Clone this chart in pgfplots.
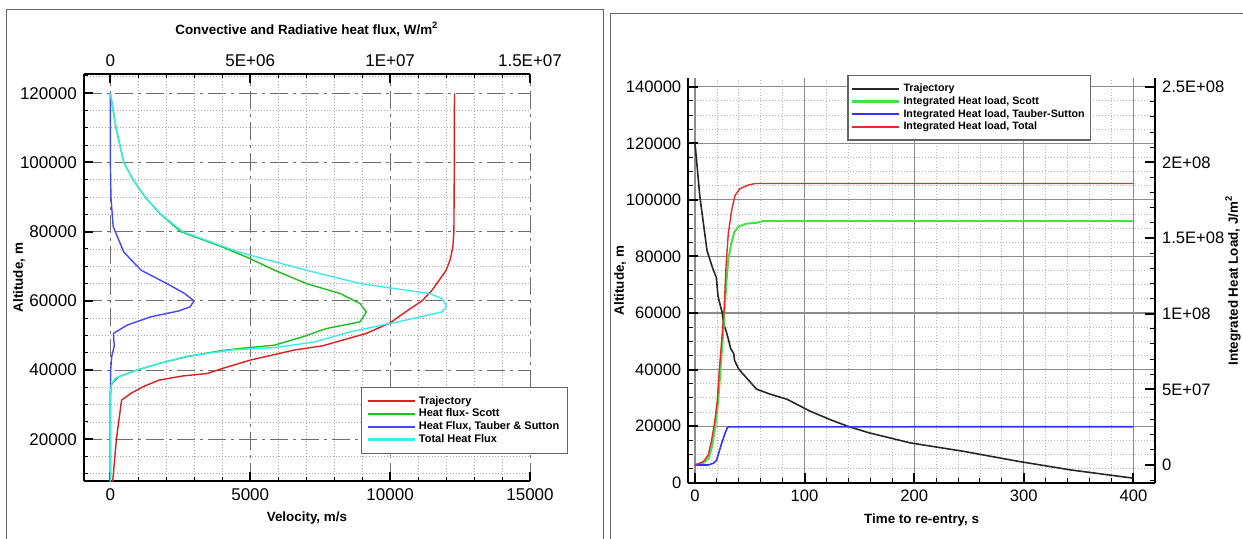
\documentclass[border=0pt]{standalone}
\usepackage{fontspec}
\setmainfont{Liberation Sans}
\usepackage{pgfplots}
\pgfplotsset{compat=1.18}
\definecolor{framegray}{RGB}{100,100,100}
\definecolor{lmajgrid}{RGB}{110,110,110}
\definecolor{lmingrid}{RGB}{170,170,170}
\definecolor{rmajgrid}{RGB}{140,140,140}
\definecolor{rmingrid}{RGB}{180,180,180}
\definecolor{ltrajcol}{RGB}{220,30,30}
\definecolor{lscottcol}{RGB}{30,190,30}
\definecolor{lbluecol}{RGB}{70,70,245}
\definecolor{ltotcol}{RGB}{60,235,235}
\definecolor{rtrajcol}{RGB}{40,40,40}
\definecolor{rscottcol}{RGB}{70,225,70}
\definecolor{rbluecol}{RGB}{50,50,250}
\definecolor{rtotcol}{RGB}{235,40,40}
\pgfplotsset{
  common/.style={
    scale only axis,
    scaled ticks=false,
    tick align=inside,
    /pgf/number format/assume math mode=true,
    axis line style={-, line width=1.1pt, black},
    every major tick/.append style={line width=1pt, black},
    every minor tick/.append style={line width=0.5pt, black},
    label style={font=\fontsize{6.7}{8}\selectfont\bfseries},
    legend cell align=left,
  },
}
\begin{document}
\begin{tikzpicture}
\path[use as bounding box] (0,0) rectangle (621.5pt,-269pt);
\draw[framegray, line width=0.5pt] (3.15pt,-275pt) -- (3.15pt,-4.65pt) -- (301.8pt,-4.65pt) -- (301.8pt,-275pt);
\draw[framegray, line width=0.5pt] (305.35pt,-275pt) -- (305.35pt,-6.65pt) -- (625pt,-6.65pt);

% ---------------- LEFT PANEL: velocity vs altitude ----------------
\begin{axis}[common,
  at={(41.9pt,-240.65pt)}, anchor=south west,
  width=223.1pt, height=203.65pt,
  xmin=-950, xmax=15000, ymin=7850, ymax=125570,
  axis x line*=bottom, axis y line*=left,
  xtick={0,5000,10000,15000}, xticklabels={0,5000,10000,15000},
  minor xtick={1000,2000,3000,4000,6000,7000,8000,9000,11000,12000,13000,14000},
  ytick={20000,40000,60000,80000,100000,120000},
  yticklabels={20000,40000,60000,80000,100000,120000},
  minor ytick={10000,15000,25000,30000,35000,45000,50000,55000,65000,70000,75000,85000,90000,95000,105000,110000,115000,125000},
  major tick length=4.5pt, minor tick length=2pt,
  tick label style={font=\fontsize{8.5}{9}\selectfont},
  grid=both,
  major grid style={lmajgrid, line width=0.5pt, dash pattern=on 9pt off 2.5pt on 1.5pt off 2.5pt},
  minor grid style={lmingrid, line width=0.4pt, dash pattern=on 0.5pt off 1pt},
  xlabel={Velocity, m/s}, ylabel={Altitude, m},
  xlabel style={at={(axis description cs:0.5,-0.0908)}, anchor=center},
  ylabel style={at={(axis description cs:-0.1452,0.5)}, anchor=center},
]
\addplot[ltrajcol, line width=0.7pt] coordinates {
(12300,120000) (12295,100000) (12280,80000) (12240,75500) (12150,72000)
(12000,68800) (11500,63100) (11140,60000) (10640,57300) (10000,53650)
(9150,50600) (7580,47000) (6580,45800) (5010,42900) (4020,40500)
(3450,39000) (2590,38300) (1740,37100) (1170,35200) (740,33300)
(400,31300) (215,20000) (82,7700)};
\end{axis}

\begin{axis}[common,
  at={(41.9pt,-240.65pt)}, anchor=south west,
  width=223.1pt, height=203.65pt,
  xmin=-0.95e6, xmax=1.5e7, ymin=7850, ymax=125570,
  axis x line*=top, hide y axis,
  xtick={0,5e6,1e7,1.5e7}, xticklabels={0,5E+06,1E+07,1.5E+07},
  minor xtick={1e6,2e6,3e6,4e6,6e6,7e6,8e6,9e6,1.1e7,1.2e7,1.3e7,1.4e7},
  major tick length=4.5pt, minor tick length=2pt,
  tick label style={font=\fontsize{8.5}{9}\selectfont},
  xlabel={Convective and Radiative heat flux, W/m\textsuperscript{2}},
  xlabel style={at={(axis description cs:0.5,1.1097)}, anchor=center},
  legend style={at={(0.621,0.067)}, anchor=south west, draw=framegray, line width=0.6pt,
    fill=white, font=\fontsize{5.5}{6}\selectfont\bfseries,
    inner xsep=2.5pt, inner ysep=3.8pt, row sep=0pt, column sep=0pt,
    nodes={inner xsep=1.6pt, inner ysep=0.6pt, text height=4.0pt, text depth=1.15pt}},
  legend image code/.code={\draw[#1] (0pt,0pt) -- (23.5pt,0pt);},
]
\addlegendimage{draw=ltrajcol, line width=1.1pt}
\addlegendentry{Trajectory}
\addlegendimage{draw=lscottcol, line width=1.1pt}
\addlegendentry{Heat flux- Scott}
\addlegendimage{draw=lbluecol, line width=1.1pt}
\addlegendentry{Heat Flux, Tauber \& Sutton}
\addlegendimage{draw=ltotcol, line width=1.1pt}
\addlegendentry{Total Heat Flux}
\addplot[color=lscottcol, line width=0.7pt, forget plot] coordinates {
(0,120000) (2.0e5,110000) (4.8e5,100000) (8.1e5,95000) (1.24e6,90000) (1.80e6,85000)
(2.52e6,80000) (4.0e6,75600) (5.0e6,72200) (5.87e6,68850) (7.01e6,65000)
(8.22e6,62100) (8.93e6,59200) (9.15e6,56800) (8.93e6,53950) (7.72e6,52000)
(6.87e6,49600) (5.87e6,47200) (4.59e6,46200) (3.95e6,45600) (2.73e6,43850)
(1.74e6,41900) (9.5e5,40000) (3.1e5,38100) (1.7e5,37100) (3e4,35700)
(0,32300) (0,8500)};
\addplot[color=lbluecol, line width=0.7pt, forget plot] coordinates {
(0,120000) (0,100000) (2e4,90000) (1e5,81500) (4.8e5,74100) (1.1e6,68850)
(2.02e6,65000) (2.66e6,62100) (2.99e6,60000) (2.85e6,58300) (2.45e6,57100)
(1.45e6,55400) (6e5,53000) (1.1e5,50600) (1.2e5,49000) (1.4e5,47000)
(5e4,44000) (1e4,40000) (0,32300) (0,8500)};
\addplot[color=ltotcol, line width=0.7pt, forget plot] coordinates {
(0,120000) (2.0e5,110000) (4.8e5,100000) (8.1e5,95000) (1.24e6,90000) (1.81e6,85000)
(2.59e6,80000) (4.59e6,74100) (7.01e6,68850) (8.93e6,65000) (1.142e7,62100)
(1.185e7,60700) (1.202e7,58460) (1.185e7,56800) (1.029e7,53950) (9.72e6,53000)
(8.58e6,51050) (7.29e6,48100) (5.87e6,46500) (4.44e6,45900) (2.73e6,44000)
(1.74e6,41900) (9.5e5,40000) (1.7e5,37600) (3e4,35700) (0,32300) (0,7700)};
\end{axis}

% ---------------- RIGHT PANEL: time vs altitude / heat load ----------------
\begin{axis}[common,
  at={(344.15pt,-241.35pt)}, anchor=south west,
  width=233.35pt, height=202.2pt,
  xmin=-6.1, xmax=419.7, ymin=0, ymax=142970,
  axis x line*=bottom, axis y line*=left,
  axis line style={-, line width=1pt, black},
  xtick={0,100,200,300,400}, xticklabels={0,100,200,300,400},
  minor xtick={20,40,60,80,120,140,160,180,220,240,260,280,320,340,360,380,400},
  ytick={0,20000,40000,60000,80000,100000,120000,140000},
  yticklabels={0,20000,40000,60000,80000,100000,120000,140000},
  minor ytick={5000,10000,15000,25000,30000,35000,45000,50000,55000,65000,70000,75000,85000,90000,95000,105000,110000,115000,125000,130000,135000},
  major tick length=5pt, minor tick length=2.5pt,
  tick label style={font=\fontsize{8.3}{9}\selectfont},
  grid=both,
  major grid style={rmajgrid, line width=0.6pt},
  minor grid style={rmingrid, line width=0.4pt, dash pattern=on 0.5pt off 1pt},
  xlabel={Time to re-entry, s}, ylabel={Altitude, m},
  xlabel style={at={(axis description cs:0.5,-0.0922)}, anchor=center},
  ylabel style={at={(axis description cs:-0.1463,0.5)}, anchor=center},
]
\addplot[color=rtrajcol, line width=0.8pt] coordinates {
(0,120000) (4.5,101000) (11,82000) (16,76000) (19.5,72500) (21,66000)
(23.5,62000) (24.6,60500) (26.5,55700) (28.2,53900) (30.7,50350) (32.6,47400)
(35.4,45600) (36.1,43200) (39.8,40250) (45.2,37850) (50.6,35500) (56,33100)
(68.6,31300) (84,29500) (104.7,25350) (122.7,22400) (139,20000) (158.8,17640)
(196.6,14070) (245.4,11070) (295.8,7500) (342.7,4530) (400,1600)};
\end{axis}

\begin{axis}[common,
  at={(344.15pt,-241.35pt)}, anchor=south west,
  width=233.35pt, height=202.2pt,
  xmin=-6.1, xmax=419.7, ymin=-1.17e7, ymax=2.555e8,
  axis y line*=right, hide x axis,
  axis line style={-, line width=1pt, black},
  ytick={0,5e7,1e8,1.5e8,2e8,2.5e8},
  yticklabels={0,5E+07,1E+08,1.5E+08,2E+08,2.5E+08},
  minor ytick={-1e7,1e7,2e7,3e7,4e7,6e7,7e7,8e7,9e7,1.1e8,1.2e8,1.3e8,1.4e8,1.6e8,1.7e8,1.8e8,1.9e8,2.1e8,2.2e8,2.3e8,2.4e8},
  major tick length=5pt, minor tick length=2.5pt,
  tick label style={font=\fontsize{8.3}{9}\selectfont},
  ylabel={Integrated Heat Load, J/m\textsuperscript{2}},
  ylabel style={at={(axis description cs:1.167,0.5)}, anchor=center},
  legend style={at={(0.3407,1.008)}, anchor=north west, draw=framegray, line width=0.6pt,
    fill=white, font=\fontsize{5.35}{6}\selectfont\bfseries,
    inner xsep=1.5pt, inner ysep=3.4pt, row sep=0pt, column sep=0pt,
    nodes={inner xsep=1.6pt, inner ysep=0.6pt, text height=4.0pt, text depth=1.15pt}},
  legend image code/.code={\draw[#1] (0pt,0pt) -- (23.3pt,0pt);},
]
\addlegendimage{draw=rtrajcol, line width=1.1pt}
\addlegendentry{Trajectory}
\addlegendimage{draw=rscottcol, line width=1.4pt}
\addlegendentry{Integrated Heat load, Scott}
\addlegendimage{draw=rbluecol, line width=1.0pt}
\addlegendentry{Integrated Heat load, Tauber-Sutton}
\addlegendimage{draw=rtotcol, line width=1.1pt}
\addlegendentry{Integrated Heat load, Total}
\addplot[color=rscottcol, line width=1pt, forget plot] coordinates {
(0,0) (8,1.5e6) (12.5,4.5e6) (15.5,1.2e7) (18.5,2.5e7) (21,4.1e7) (23.2,6.2e7)
(25.2,8.2e7) (27,1.02e8) (28.8,1.22e8) (30.4,1.36e8) (33,1.46e8) (36,1.54e8)
(39.5,1.575e8) (47,1.595e8) (56,1.6e8) (62,1.612e8) (400,1.612e8)};
\addplot[color=rbluecol, line width=0.8pt, forget plot] coordinates {
(0,0) (12,0) (17,1.2e6) (19.8,3.3e6) (21.5,7.5e6) (24.3,1.43e7) (27,2.0e7)
(29.5,2.47e7) (31,2.52e7) (400,2.53e7)};
\addplot[color=rtotcol, line width=0.7pt, forget plot] coordinates {
(0,0) (7.6,2.2e6) (12.1,6.6e6) (15.2,1.65e7) (18.2,2.97e7) (20.4,4.3e7)
(22.2,6.3e7) (24.2,8.1e7) (26.5,1.02e8) (28.3,1.31e8) (30.4,1.53e8)
(33.5,1.685e8) (36.5,1.78e8) (41,1.826e8) (48.6,1.85e8) (55,1.86e8) (400,1.86e8)};
\end{axis}
\end{tikzpicture}
\end{document}
